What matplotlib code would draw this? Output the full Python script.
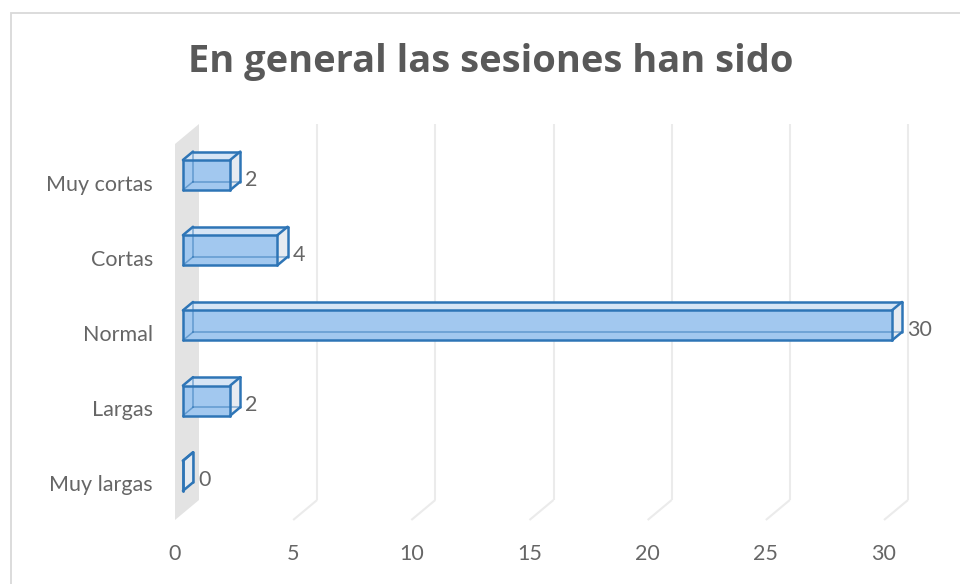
import matplotlib
matplotlib.use("Agg")
import matplotlib.pyplot as plt
from matplotlib.patches import Polygon, Rectangle
import numpy as np

plt.rcParams['font.family'] = ['Lato', 'DejaVu Sans']

title = "En general las sesiones han sido"
categories = ["Muy largas", "Largas", "Normal", "Cortas", "Muy cortas"]
values = [0, 2, 30, 4, 2]
xticks = [0, 5, 10, 15, 20, 25, 30]

W, H = 960, 584
fig = plt.figure(figsize=(W / 100, H / 100), dpi=100)
fig.patch.set_facecolor("white")

# front plane of the 3D box in pixels
L, R, T, B = 175, 884, 144, 520
ax = fig.add_axes([L / W, 1 - B / H, (R - L) / W, (B - T) / H])
ax.set_xlim(0, 30)
ax.set_ylim(-0.5, 4.5)
for s in ax.spines.values():
    s.set_visible(False)
ax.set_facecolor("none")

pxx = (R - L) / 30.0
pxy = (B - T) / 5.0
DX, DY = 24, 20  # depth offset in pixels (front -> back)


def off(t):
    return t * DX / pxx, t * DY / pxy


grid_c = "#EBEBEB"
wall_c = "#E3E3E3"
text_c = "#666666"
ddx, ddy = off(1.0)

# side wall at 0
ax.add_patch(Polygon([(0, -0.5), (0, 4.5), (ddx, 4.5 + ddy), (ddx, -0.5 + ddy)],
                     closed=True, facecolor=wall_c, edgecolor="none", clip_on=False, zorder=1))
# gridlines (back + floor diagonal)
for v in xticks[1:]:
    ax.plot([v + ddx, v + ddx], [-0.5 + ddy, 4.5 + ddy], color=grid_c, lw=1.5,
            clip_on=False, zorder=1.5, solid_capstyle="butt")
    ax.plot([v + ddx, v], [-0.5 + ddy, -0.5], color=grid_c, lw=1.5,
            clip_on=False, zorder=1.5, solid_capstyle="butt")

edge_c = "#2E75B6"
front_c = "#A2C8EF"
top_c = "#D6E5F5"
side_c = "#E6EBF1"
bh = 0.4
f1, f2 = 0.33, 0.75
ax1, ay1 = off(f1)
ax2, ay2 = off(f2)

for i, v in enumerate(values):
    y0, y1 = i - bh / 2, i + bh / 2
    F = {"bl": (ax1, y0 + ay1), "br": (v + ax1, y0 + ay1),
         "tr": (v + ax1, y1 + ay1), "tl": (ax1, y1 + ay1)}
    K = {"bl": (ax2, y0 + ay2), "br": (v + ax2, y0 + ay2),
         "tr": (v + ax2, y1 + ay2), "tl": (ax2, y1 + ay2)}
    z = 3
    ax.add_patch(Polygon([F["bl"], F["br"], F["tr"], F["tl"]], closed=True,
                         facecolor=front_c, edgecolor="none", clip_on=False, zorder=z + 0.1))
    ax.add_patch(Polygon([F["tl"], F["tr"], K["tr"], K["tl"]], closed=True,
                         facecolor=top_c, edgecolor="none", clip_on=False, zorder=z + 0.1))
    ax.add_patch(Polygon([F["br"], K["br"], K["tr"], F["tr"]], closed=True,
                         facecolor=side_c, edgecolor="none", clip_on=False, zorder=z + 0.1))
    # hidden edges seen through the translucent box
    for a, b in [(K["bl"], K["br"]), (K["bl"], K["tl"]), (F["bl"], K["bl"])]:
        ax.plot([a[0], b[0]], [a[1], b[1]], color=edge_c, lw=1.1, alpha=0.55,
                clip_on=False, zorder=z + 0.2)
    # visible edges
    for a, b in [(F["bl"], F["br"]), (F["br"], F["tr"]), (F["tr"], F["tl"]), (F["tl"], F["bl"]),
                 (F["tl"], K["tl"]), (K["tl"], K["tr"]), (F["tr"], K["tr"]),
                 (K["tr"], K["br"]), (F["br"], K["br"])]:
        ax.plot([a[0], b[0]], [a[1], b[1]], color=edge_c, lw=1.8,
                clip_on=False, zorder=z + 0.3, solid_capstyle="round")
    lx = v + ax2 + 5 / pxx
    ax.text(lx, i + ay1 * 0.3, str(v), ha="left", va="center", fontsize=15.5,
            color=text_c, zorder=5, clip_on=False)

ax.set_xticks(xticks)
ax.set_xticklabels([str(t) for t in xticks])
ax.set_yticks([k - 3 / pxy for k in range(len(categories))])
ax.set_yticklabels(categories)
ax.tick_params(axis="x", length=0, pad=17, labelsize=15.5, labelcolor=text_c)
ax.tick_params(axis="y", length=0, pad=16, labelsize=15.5, labelcolor=text_c)
for lab in ax.get_yticklabels():
    lab.set_va("center")

fig.text(491 / W, 1 - 62 / H, title, ha="center", va="center", fontsize=27.4,
         fontweight="bold", color="#595959", family=["Open Sans", "DejaVu Sans"])

fig.patches.append(Rectangle((11 / W, -0.2), 2.0, (H - 13) / H + 0.2, transform=fig.transFigure,
                             fill=False, edgecolor="#D9D9D9", lw=1.3))

fig.savefig("out.png", dpi=100, facecolor="white")
